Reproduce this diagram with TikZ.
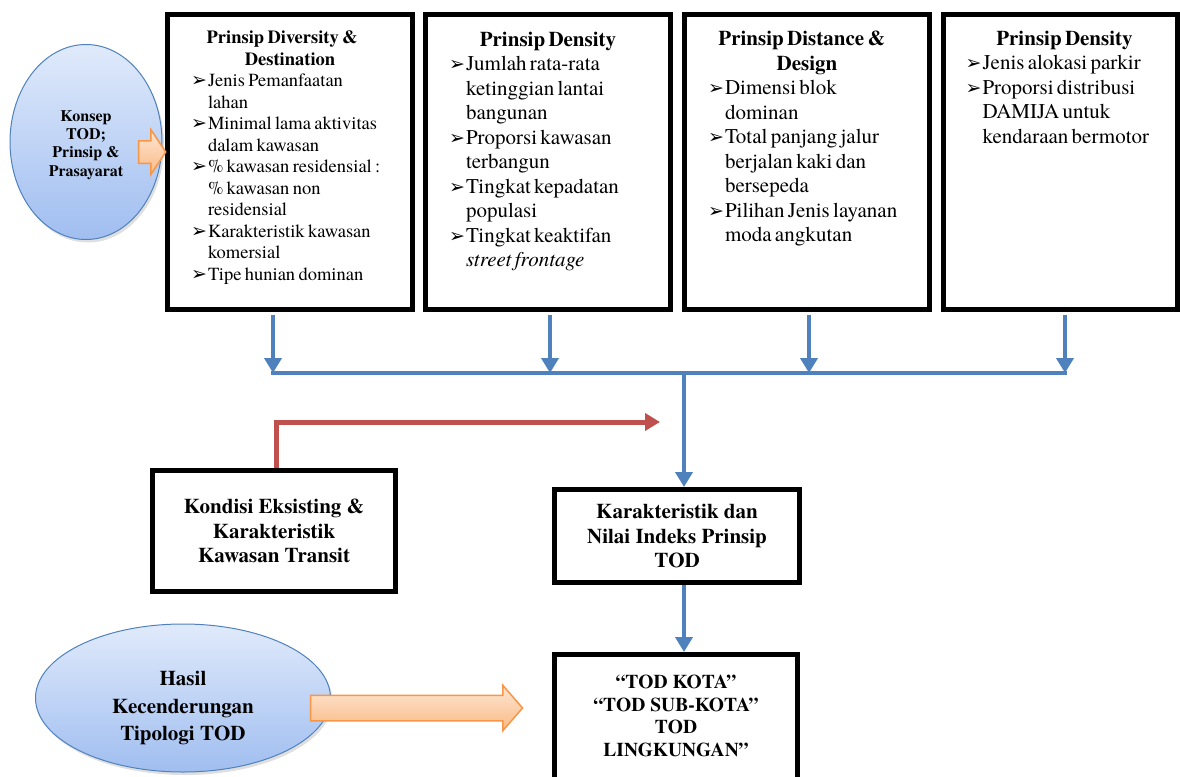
\documentclass[tikz,border=0pt]{standalone}
\usepackage{fontspec}
\setmainfont{TeX Gyre Termes}
\newfontfamily\panahfont{DejaVu Sans}
\usetikzlibrary{positioning,shapes.geometric,shapes.arrows,arrows.meta,shadows}

\definecolor{garisbiru}{RGB}{79,129,189}
\definecolor{garismerah}{RGB}{192,80,77}
\definecolor{oranye}{RGB}{247,150,70}
\definecolor{biruatas}{RGB}{224,234,251}
\definecolor{birubawah}{RGB}{160,190,240}
\definecolor{peachatas}{RGB}{253,230,212}
\definecolor{peachbawah}{RGB}{250,186,132}

\setlength{\parindent}{0pt}
\newcommand{\isibesar}{\fontsize{21}{24.5}\selectfont}
\newcommand{\isikecil}{\fontsize{18.5}{21.5}\selectfont}
\newcommand{\brs}{\newline}
% butir daftar dengan tanda panah
\newcommand{\butir}[1]{\par\hangindent=17pt\hangafter=1\noindent
  \makebox[17pt][l]{\panahfont\fontsize{19}{19}\selectfont\char"27A2}#1}

\begin{document}
\begin{tikzpicture}[x=1pt,y=-1pt,
    prinsip/.style={draw, line width=5pt, minimum width=245pt,
      minimum height=295pt, inner sep=0pt},
    kotak/.style={draw, line width=5pt, inner sep=0pt, align=center,
      font=\fontsize{21}{24.5}\selectfont\bfseries},
    isi/.style={anchor=north, text width=198pt, inner sep=0pt},
    elips/.style={ellipse, draw=garisbiru, line width=1pt,
      top color=biruatas, bottom color=birubawah,
      drop shadow={shadow xshift=2pt, shadow yshift=-3pt, opacity=0.25}},
    tekselips/.style={align=center, inner sep=0pt},
    blok/.style={single arrow, draw=oranye, line width=1.5pt,
      top color=peachatas, bottom color=peachbawah, inner xsep=0pt},
    panahbiru/.style={draw=garisbiru, line width=4.5pt,
      -{Triangle[width=17pt,length=15pt]}},
    garis/.style={draw=garisbiru, line width=4.5pt},
    panahmerah/.style={draw=garismerah, line width=5pt,
      -{Triangle[width=17pt,length=15pt]}}]

\useasboundingbox (0,0) rectangle (1180,776);

% kotak prinsip
\node[prinsip] (p1) at (290,162) {};
\node[prinsip] (p2) at (548,162) {};
\node[prinsip] (p3) at (807,162) {};
\node[prinsip, minimum width=234pt] (p4) at (1060.5,162) {};

\node[isi, below=19pt of p1.north] (t1) {\isikecil
  {\centering\bfseries Prinsip Diversity \&\brs Destination\par}\raggedright
  \butir{Jenis Pemanfaatan\brs lahan}
  \butir{Minimal lama aktivitas\brs dalam kawasan}
  \butir{\% kawasan residensial :\brs\% kawasan non\brs residensial}
  \butir{Karakteristik kawasan\brs komersial}
  \butir{Tipe hunian dominan}\par};

\node[isi, below=19.5pt of p2.north] (t2) {\isibesar
  {\centering\bfseries Prinsip Density\par}\raggedright
  \butir{Jumlah rata-rata\brs ketinggian lantai\brs bangunan}
  \butir{Proporsi kawasan\brs terbangun}
  \butir{Tingkat kepadatan\brs populasi}
  \butir{Tingkat keaktifan\brs\textit{street frontage}}\par};

\node[isi, below=19pt of p3.north] (t3) {\isibesar
  {\centering\bfseries Prinsip Distance \&\brs Design\par}\raggedright
  \butir{Dimensi blok\brs dominan}
  \butir{Total panjang jalur\brs berjalan kaki dan\brs bersepeda}
  \butir{Pilihan Jenis layanan\brs moda angkutan}\par};

\node[isi, below=18.5pt of p4.north, xshift=4pt] (t4) {\isibesar
  {\centering\bfseries Prinsip Density\par}\raggedright
  \butir{Jenis alokasi parkir}
  \butir{Proporsi distribusi\brs DAMIJA untuk\brs kendaraan bermotor}\par};

% konsep dan hasil
\node[elips, minimum width=152pt, minimum height=195pt] (konsep) at (86,142) {};
\node[tekselips, font=\fontsize{16}{18.3}\selectfont\bfseries] (konsepTeks)
  at ([yshift=-3pt]konsep.center) {Konsep\\TOD;\\Prinsip \&\\Prasayarat};
\node[blok, minimum height=27pt, inner ysep=10.5pt,
  single arrow head extend=11pt, single arrow tip angle=113] (a1) at (148.5,152) {};

\node[elips, minimum width=295pt, minimum height=148pt] (hasil) at (183,698) {};
\node[tekselips, font=\fontsize{21}{27.5}\selectfont\bfseries] (hasilTeks)
  at ([yshift=-10pt]hasil.center) {Hasil\\Kecenderungan\\Tipologi TOD};
\node[blok, minimum height=212pt, inner ysep=12pt,
  single arrow head extend=10pt, single arrow tip angle=98] (a2) at (411,708) {};

% kotak bawah
\node[kotak, minimum width=243pt, minimum height=121pt] (kondisi) at (274,531)
  {Kondisi Eksisting \&\\Karakteristik\\Kawasan Transit};
\node[kotak, minimum width=245pt, minimum height=93pt] (nilai) at (677,536)
  {Karakteristik dan\\Nilai Indeks Prinsip\\TOD};
\node[kotak, minimum width=243pt, minimum height=135pt] (tod) at (676,722) {};
\node[tekselips, font=\fontsize{19.5}{22.7}\selectfont\bfseries] (todTeks)
  at (676,716) {``TOD KOTA''\\``TOD SUB-KOTA''\\TOD\\LINGKUNGAN''};

% penghubung
\coordinate (busKiri) at (271,373);
\coordinate (busKanan) at (1067,373);
\coordinate (bus) at (684,373);
\coordinate (merahUjung) at (660,422);

\draw[garis] (busKiri) -- (busKanan);
\draw[panahbiru] ([xshift=-17pt,yshift=-2.5pt]p1.south) -- ([xshift=-17pt]p1.south |- bus);
\draw[panahbiru] ([xshift=2pt,yshift=-2.5pt]p2.south) -- ([xshift=2pt]p2.south |- bus);
\draw[panahbiru] ([xshift=2pt,yshift=-2.5pt]p3.south) -- ([xshift=2pt]p3.south |- bus);
\draw[panahbiru] ([xshift=4.5pt,yshift=-2.5pt]p4.south) -- ([xshift=4.5pt]p4.south |- bus);
\draw[panahbiru] (bus) -- (bus |- nilai.north);
\draw[panahbiru] (bus |- nilai.south) -- (bus |- tod.north);
\draw[panahmerah] ([xshift=2pt]kondisi.north) |- (merahUjung);
\end{tikzpicture}
\end{document}
